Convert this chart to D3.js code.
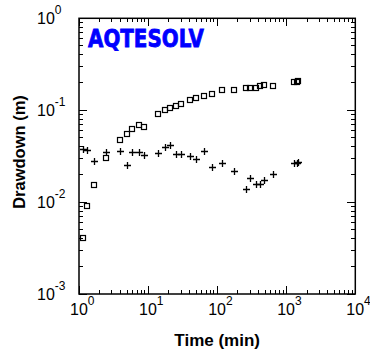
<!DOCTYPE html>
<html><head><meta charset="utf-8">
<script src="https://cdn.jsdelivr.net/npm/d3@7"></script>
<style>body{margin:0;background:#fff}svg{display:block}</style>
</head><body>
<svg id="c" width="370" height="350"></svg>
<script>
const times = [1.154,1.319,1.665,2.485,3.96,5.00,5.91,7.46,8.82,14.06,17.76,20.97,25.62,30.26,40.86,49.9,65.2,85.1,116.3,173.5,258.9,295.9,368.6,421.2,481.3,649.6,1308,1420,1495];
const wellA = [0.00404,0.00907,0.01524,0.02997,0.0470,0.0547,0.0620,0.0690,0.0652,0.0902,0.0997,0.1049,0.1103,0.1159,0.1281,0.1348,0.1417,0.1489,0.1646,0.1646,0.1731,0.1731,0.1731,0.1820,0.1866,0.1820,0.2012,0.2040,0.2063];
const wellB = [0.03754,0.03662,0.0278,0.0348,0.0357,0.02515,0.0348,0.0348,0.0323,0.0340,0.0395,0.0415,0.0331,0.0331,0.0315,0.0292,0.0357,0.0239,0.0264,0.0216,0.01378,0.01815,0.01562,0.01562,0.01727,0.02007,0.0264,0.0266,0.0271];
const xTicks = [1,10,100,1000,10000];
const xExp = ["0","1","2","3","4"];
const yTicks = [0.001,0.01,0.1,1];
const yExp = ["-3","-2","-1","0"];

const svg = d3.select("#c");
const L=79, R=355.3, T=18.3, B=294;
const x = d3.scaleLog().domain([1,10000]).range([L,R]);
const y = d3.scaleLog().domain([0.001,1]).range([B,T]);
const font = "Arial, 'Liberation Sans', sans-serif";

function minorVals(lo, hi){const v=[];for(let e=lo;e<hi;e++){for(let k=2;k<=9;k++)v.push(k*Math.pow(10,e));}return v;}
const xMinor = minorVals(0,4), yMinor = minorVals(-3,0);
const g = svg.append("g").attr("stroke","#000").attr("stroke-width",1).attr("shape-rendering","crispEdges");
xMinor.forEach(v=>{g.append("line").attr("x1",x(v)).attr("x2",x(v)).attr("y1",B).attr("y2",B-4);
  g.append("line").attr("x1",x(v)).attr("x2",x(v)).attr("y1",T).attr("y2",T+4);});
xTicks.forEach(v=>{g.append("line").attr("x1",x(v)).attr("x2",x(v)).attr("y1",B).attr("y2",B-8);
  g.append("line").attr("x1",x(v)).attr("x2",x(v)).attr("y1",T).attr("y2",T+8);});
yMinor.forEach(v=>{g.append("line").attr("y1",y(v)).attr("y2",y(v)).attr("x1",L).attr("x2",L+4);
  g.append("line").attr("y1",y(v)).attr("y2",y(v)).attr("x1",R).attr("x2",R-4);});
yTicks.forEach(v=>{g.append("line").attr("y1",y(v)).attr("y2",y(v)).attr("x1",L).attr("x2",L+8);
  g.append("line").attr("y1",y(v)).attr("y2",y(v)).attr("x1",R).attr("x2",R-8);});
svg.append("rect").attr("x",L).attr("y",T).attr("width",R-L).attr("height",B-T)
  .attr("fill","none").attr("stroke","#000").attr("stroke-width",1.5);

xTicks.forEach((v,i)=>{
  const t = svg.append("text").attr("x",x(v)-9).attr("y",315).attr("font-family",font).attr("font-size",16).attr("fill","#000");
  t.append("tspan").text("10");
  t.append("tspan").attr("dy",-10).attr("font-size",12).text(xExp[i]);
});
yTicks.forEach((v,i)=>{
  const t = svg.append("text").attr("x",37).attr("y",y(v)+6).attr("font-family",font).attr("font-size",16).attr("fill","#000");
  t.append("tspan").text("10");
  t.append("tspan").attr("dy",-10).attr("font-size",12).text(yExp[i]);
});

svg.append("text").attr("x",(L+R)/2).attr("y",346).attr("text-anchor","middle")
  .attr("font-family",font).attr("font-weight","bold").attr("font-size",17).text("Time (min)");
svg.append("text").attr("transform","translate(19,152) rotate(-90)").attr("text-anchor","middle").attr("dy","0.35em")
  .attr("font-family",font).attr("font-weight","bold").attr("font-size",16.5).text("Drawdown (m)");

svg.append("text").attr("x",88).attr("y",47).attr("font-family","'DejaVu Sans', sans-serif").attr("font-weight","bold")
  .attr("font-size",24).attr("fill","#0000ff").attr("stroke","#0000ff").attr("stroke-width",0.8)
  .attr("textLength",116).attr("lengthAdjust","spacingAndGlyphs").text("AQTESOLV");

svg.append("g").selectAll("rect").data(times).join("rect")
  .attr("x",(d)=>Math.round(x(d))-2.5).attr("y",(d,i)=>Math.round(y(wellA[i]))-2.5)
  .attr("width",5).attr("height",5).attr("fill","none").attr("stroke","#000").attr("stroke-width",1.2);
svg.append("g").attr("stroke","#000").attr("stroke-width",1.3).selectAll("path").data(times).join("path")
  .attr("d",(d,i)=>{const cx=Math.round(x(d))+0.5, cy=Math.round(y(wellB[i]))+0.5;
    return `M${cx-3.5},${cy}H${cx+3.5}M${cx},${cy-3.5}V${cy+3.5}`;});
</script>
</body></html>
